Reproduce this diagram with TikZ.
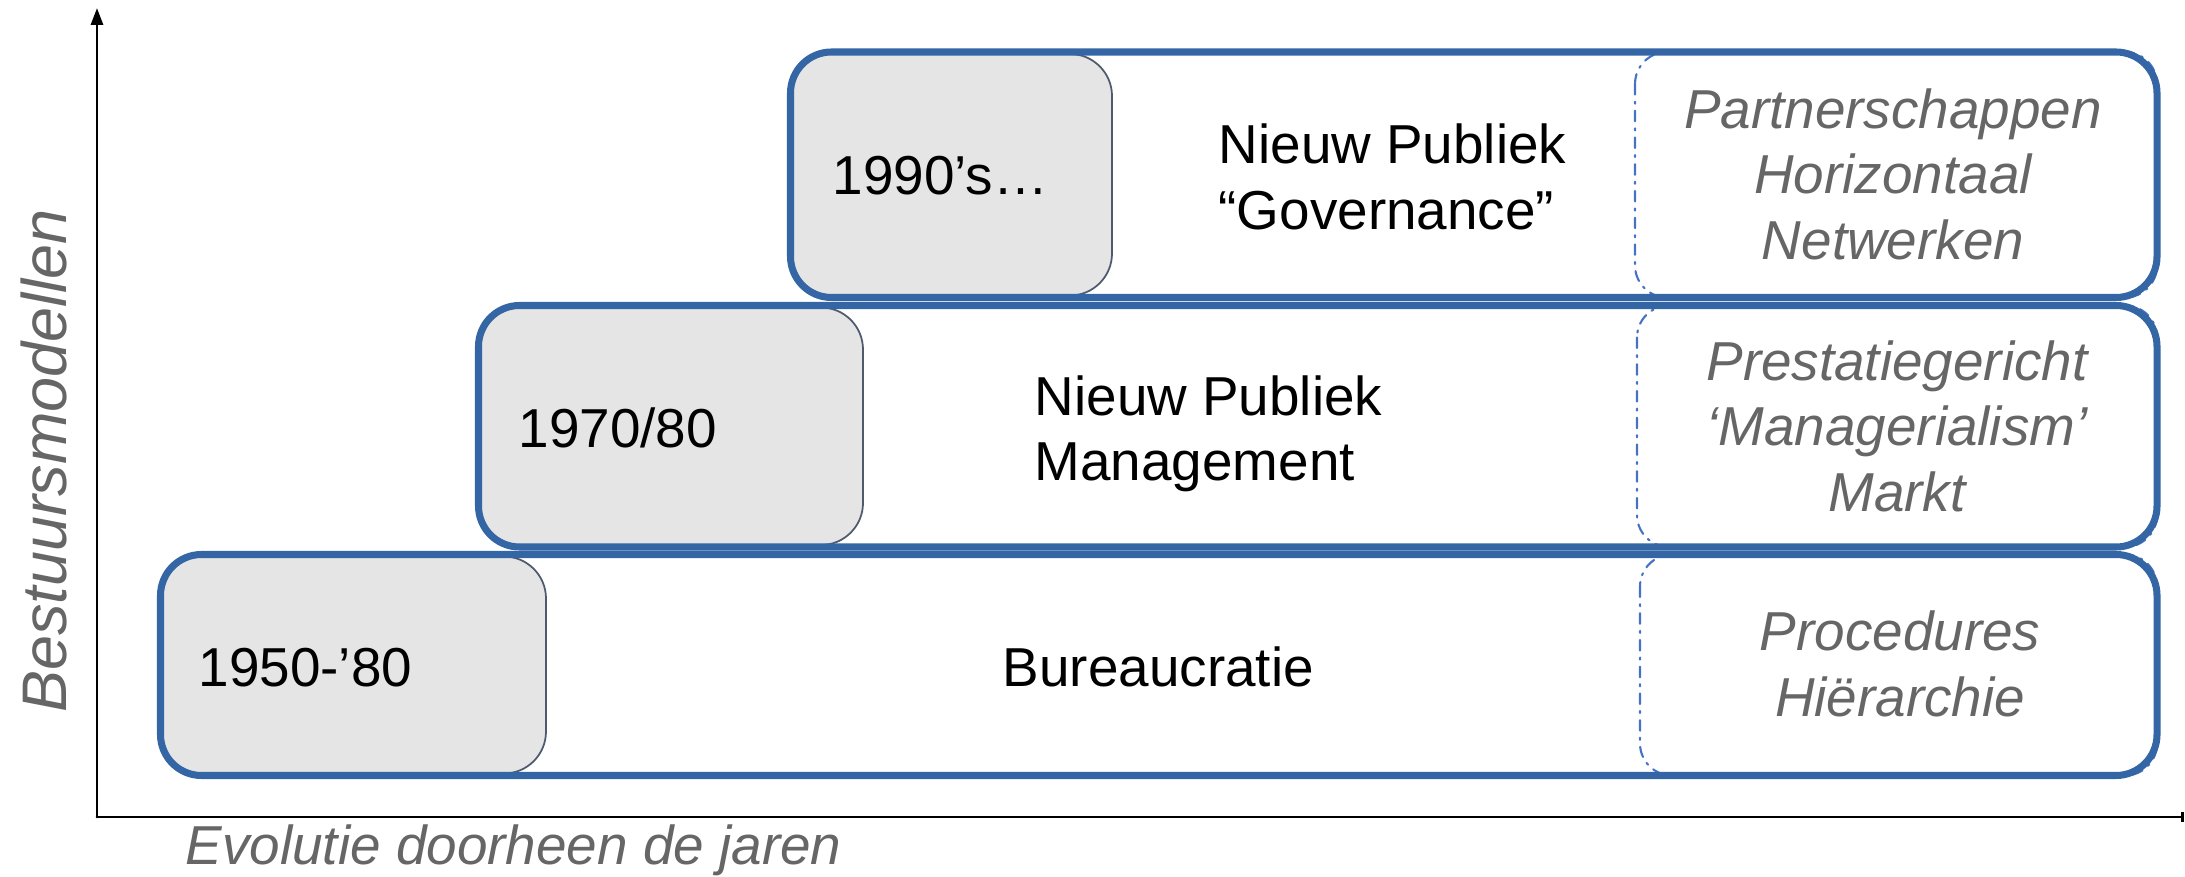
\documentclass[tikz,border=0pt]{standalone}
\usepackage{fontspec}
\setmainfont{Liberation Sans}
\usetikzlibrary{arrows.meta}

\definecolor{eraBlue}{RGB}{52,101,164}
\definecolor{dashBlue}{RGB}{68,114,196}
\definecolor{yearGray}{RGB}{229,229,229}
\definecolor{yearEdge}{RGB}{80,90,110}
\definecolor{labelGray}{RGB}{102,102,102}

\tikzset{
  axis/.style={line width=0.85pt, black},
  era/.style={draw=eraBlue, line width=2pt, rounded corners=0.41cm},
  yearbox/.style={fill=yearGray, draw=yearEdge, line width=0.5pt, rounded corners=0.42cm},
  traitline/.style={draw=dashBlue, line width=0.6pt, dash dot, rounded corners=0.32cm},
  yeartext/.style={font=\fontsize{15.6}{18.6}\selectfont, inner sep=0pt, anchor=west},
  modeltext/.style={yeartext, align=left},
  traittext/.style={font=\fontsize{15.6}{18.6}\selectfont\itshape, text=labelGray, inner sep=0pt, align=center},
}

\begin{document}
\begin{tikzpicture}[x=0.01cm, y=-0.01cm, line join=round, line cap=round]
  \useasboundingbox (0,0) rectangle (2185,877);
  % axes
  \coordinate (O) at (97,817);
  \coordinate (Ytop) at (97,8);
  \coordinate (Xend) at (2184,817);
  \draw[axis, -{Triangle[length=0.17cm,width=0.12cm]}] (O) -- (Ytop);
  \draw[axis, -{Bar[width=0.1cm]}] (O) -- (Xend);
  % eras: left/top/bottom/gray right/dash left
  \foreach \l/\t/\b/\g/\d in {790.5/52/297.5/1112/1635, 478.5/305.5/547/863/1637, 160.5/554.5/775.5/546/1640}{
    \draw[yearbox] (\l,\t+2) rectangle (\g,\b-2);
    \draw[traitline] (\d,\t) rectangle (2157,\b);
    \draw[era] (\l,\t) rectangle (2157,\b);
  }
  % years
  \node[yeartext] (y1990) at (832,176) {1990’s…};
  \node[yeartext] (y1970) at (518,428) {1970/80};
  \node[yeartext] (y1950) at (198,668) {1950-’80};
  % models
  \node[modeltext] (npg) at (1218,177) {Nieuw Publiek\\“Governance”};
  \node[modeltext] (npm) at (1034,434) {Nieuw Publiek\\Management};
  \node[modeltext] (bur) at (1002,667) {Bureaucratie};
  % traits
  \node[traittext] (t1990) at (1893,174) {Partnerschappen\\Horizontaal\\Netwerken};
  \node[traittext] (t1970) at (1897,426) {Prestatiegericht\\‘Managerialism’\\Markt};
  \node[traittext] (t1950) at (1900,664) {Procedures\\Hiërarchie};
  % axis labels
  \node[font=\fontsize{17.9}{20}\selectfont\itshape, text=labelGray, inner sep=0pt, rotate=90] (ylab) at (44,461) {Bestuursmodellen};
  \node[font=\fontsize{15.6}{18.6}\selectfont\itshape, text=labelGray, inner sep=0pt, anchor=base west] (xlab) at (185,865) {Evolutie doorheen de jaren};
\end{tikzpicture}
\end{document}
